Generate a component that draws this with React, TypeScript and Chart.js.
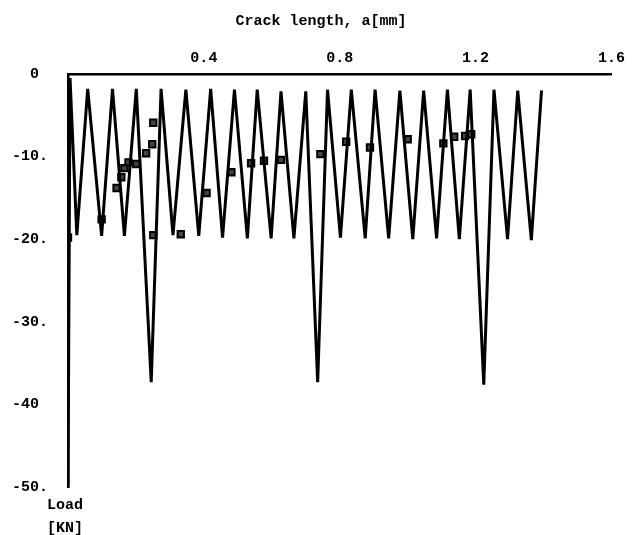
import React, { useEffect, useRef } from 'react';
import { Chart, registerables } from 'chart.js';

Chart.register(...registerables);

// Zig-zag load history (crack length in mm, load in kN)
const zigX = [
  0, 0.006, 0.026, 0.058, 0.099, 0.131, 0.166, 0.201, 0.245, 0.274,
  0.309, 0.347, 0.385, 0.42, 0.455, 0.49, 0.528, 0.557, 0.598, 0.627,
  0.665, 0.7, 0.735, 0.764, 0.802, 0.834, 0.875, 0.904, 0.944, 0.977,
  1.015, 1.047, 1.085, 1.117, 1.152, 1.184, 1.224, 1.254, 1.294, 1.324,
  1.364, 1.394,
];
const zigY = [
  -50, -0.5, -19.5, -1.8, -19.6, -1.8, -19.6, -1.8, -37.3, -1.8,
  -19.5, -1.9, -19.6, -1.8, -19.8, -1.9, -19.9, -1.9, -19.9, -2.1,
  -19.9, -2.1, -37.3, -1.9, -19.8, -1.9, -19.9, -1.9, -19.9, -2.0,
  -20.0, -2.0, -19.9, -1.9, -20.0, -1.9, -37.6, -1.9, -20.0, -2.0,
  -20.1, -2.0,
];

// Measured points (square markers)
const markX = [
  0, 0.099, 0.143, 0.157, 0.166, 0.178, 0.201, 0.23, 0.248, 0.251,
  0.251, 0.332, 0.408, 0.481, 0.539, 0.577, 0.627, 0.743, 0.819, 0.889,
  1.0, 1.105, 1.137, 1.169, 1.187,
];
const markY = [
  -19.8, -17.6, -13.8, -12.5, -11.4, -10.7, -10.9, -9.6, -8.5, -5.9,
  -19.5, -19.4, -14.4, -11.9, -10.8, -10.5, -10.4, -9.7, -8.2, -8.9,
  -7.9, -8.4, -7.6, -7.5, -7.3,
];

const xTickValues = [0, 0.4, 0.8, 1.2, 1.6];
const xTickLabels = ['', '0.4', '0.8', '1.2', '1.6'];
const yTickValues = [0, -10, -20, -30, -40, -50];
const yTickLabels = ['0 ', '-10.', '-20.', '-30.', '-40 ', '-50.'];
const xTitle = 'Crack length, a[mm]';
const yTitleLines = ['Load', '[KN]'];

const FONT = '"Liberation Mono", "DejaVu Sans Mono", monospace';

export default function App() {
  const ref = useRef<HTMLCanvasElement | null>(null);

  useEffect(() => {
    if (!ref.current) return;
    const textPlugin = {
      id: 'textPlugin',
      afterDraw(chart: any) {
        const ctx = chart.ctx;
        const a = chart.chartArea;
        ctx.save();
        ctx.fillStyle = '#000';
        ctx.font = `bold 15px ${FONT}`;
        ctx.textAlign = 'center';
        ctx.textBaseline = 'middle';
        ctx.fillText(xTitle, a.left + 253, 21);
        ctx.fillText(yTitleLines[0], a.left - 3, a.bottom + 18);
        ctx.fillText(yTitleLines[1], a.left - 3, a.bottom + 41);
        ctx.restore();
      },
    };

    const chart = new Chart(ref.current, {
      type: 'scatter',
      data: {
        datasets: [
          {
            data: zigX.map((x, i) => ({ x, y: zigY[i] })),
            showLine: true,
            borderColor: '#000',
            borderWidth: 3,
            pointRadius: 0,
            tension: 0,
          },
          {
            data: markX.map((x, i) => ({ x, y: markY[i] })),
            showLine: false,
            pointStyle: 'rect',
            pointRadius: 4.5,
            pointBackgroundColor: '#444',
            pointBorderColor: '#000',
            pointBorderWidth: 2,
          },
        ],
      },
      options: {
        responsive: false,
        animation: false,
        devicePixelRatio: 1,
        layout: { padding: { top: 0, left: 0, right: 16, bottom: 48 } },
        plugins: {
          legend: { display: false },
          tooltip: { enabled: false },
          title: { display: false },
        },
        scales: {
          x: {
            type: 'linear',
            position: 'top',
            min: 0,
            max: 1.6,
            grid: { display: false, drawTicks: false },
            border: { display: true, color: '#000', width: 2.5 },
            afterBuildTicks: (scale: any) => {
              scale.ticks = xTickValues.map((v) => ({ value: v }));
            },
            afterFit: (scale: any) => {
              scale.height = 74;
            },
            ticks: {
              autoSkip: false,
              maxRotation: 0,
              padding: 7,
              color: '#000',
              font: { family: FONT, size: 15, weight: 'bold' },
              callback: (_v: any, i: number) => xTickLabels[i],
            },
          },
          y: {
            type: 'linear',
            position: 'left',
            min: -50,
            max: 0,
            grid: { display: false, drawTicks: false },
            border: { display: true, color: '#000', width: 2.5 },
            afterBuildTicks: (scale: any) => {
              scale.ticks = yTickValues.map((v) => ({ value: v }));
            },
            afterFit: (scale: any) => {
              scale.width = 68;
            },
            ticks: {
              autoSkip: false,
              padding: 20,
              crossAlign: 'near',
              color: '#000',
              font: { family: FONT, size: 15, weight: 'bold' },
              callback: (v: any) => {
                const idx = yTickValues.findIndex((t) => Math.abs(t - Number(v)) < 1e-9);
                return idx >= 0 ? yTickLabels[idx] : '';
              },
            },
          },
        },
      },
      plugins: [textPlugin],
    });
    return () => chart.destroy();
  }, []);

  return (
    <div style={{ position: 'absolute', left: 0, top: 0, width: 632, height: 535, background: '#fff' }}>
      <canvas ref={ref} width={632} height={535} />
    </div>
  );
}
